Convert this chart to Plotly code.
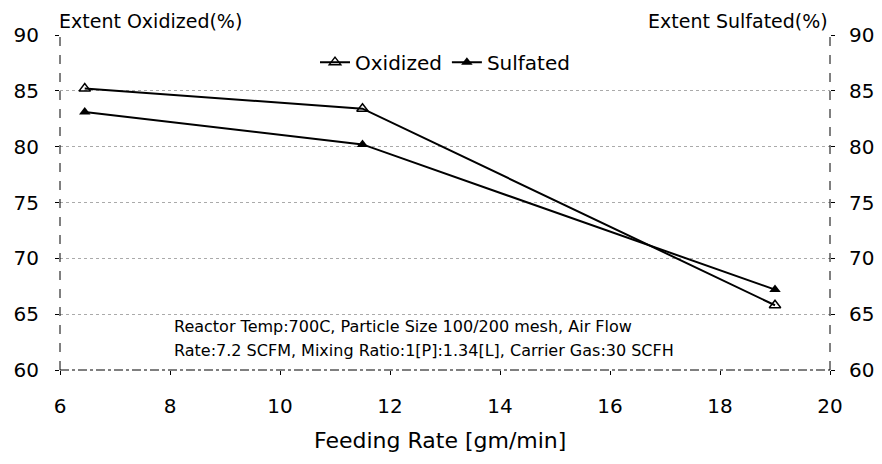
import plotly.graph_objects as go

feed_rate = [6.45, 11.5, 19.0]
oxidized = [85.2, 83.4, 65.8]
sulfated = [83.1, 80.2, 67.2]
y_ticks = [60, 65, 70, 75, 80, 85, 90]
x_ticks = [6, 8, 10, 12, 14, 16, 18, 20]
note_lines = ["Reactor Temp:700C, Particle Size 100/200 mesh, Air Flow",
              "Rate:7.2 SCFM, Mixing Ratio:1[P]:1.34[L], Carrier Gas:30 SCFH"]

FONT = "DejaVu Sans, Verdana, sans-serif"

fig = go.Figure()
fig.add_trace(go.Scatter(
    x=feed_rate, y=oxidized, name="Oxidized", mode="lines+markers",
    line=dict(color="black", width=2),
    marker=dict(symbol="triangle-up-open", size=10, color="black", line=dict(width=1.5)),
))
fig.add_trace(go.Scatter(
    x=feed_rate, y=sulfated, name="Sulfated", mode="lines+markers",
    line=dict(color="black", width=2),
    marker=dict(symbol="triangle-up", size=10, color="black"),
    yaxis="y2",
))

fig.update_layout(
    width=874, height=456,
    margin=dict(l=52, r=52, t=27, b=94),
    paper_bgcolor="white", plot_bgcolor="white",
    font=dict(family=FONT, color="black", size=20),
    showlegend=True,
    legend=dict(orientation="h", x=0.5, xanchor="center", y=0.919, yanchor="middle",
                font=dict(size=20), bgcolor="rgba(0,0,0,0)", itemwidth=30,
                tracegroupgap=0),
    xaxis=dict(range=[6, 20], tickvals=x_ticks, showgrid=False, zeroline=False,
               ticks="outside", ticklen=4, tickcolor="black", showline=False,
               automargin=False, ticklabelstandoff=14, tickfont=dict(size=20)),
    yaxis=dict(range=[60, 90], tickvals=y_ticks, showgrid=True, griddash="dot",
               gridcolor="#aaaaaa", gridwidth=1, zeroline=False, automargin=False,
               ticks="outside", ticklen=4, tickcolor="black", tickfont=dict(size=20),
               ticklabelstandoff=12, showline=False),
    yaxis2=dict(range=[60, 90], tickvals=y_ticks, overlaying="y", side="right",
                showgrid=False, zeroline=False, ticks="outside", ticklen=4,
                automargin=False, tickcolor="black", tickfont=dict(size=20),
                ticklabelstandoff=10, showline=False),
    annotations=[
        dict(text="Extent Oxidized(%)", xref="paper", yref="paper", x=-0.004, y=1.0,
             xanchor="left", yanchor="top", yshift=27, showarrow=False, font=dict(size=19)),
        dict(text="Extent Sulfated(%)", xref="paper", yref="paper", x=1.0, y=1.0,
             xanchor="right", yanchor="top", yshift=27, showarrow=False, font=dict(size=19)),
        dict(text="Feeding Rate [gm/min]", xref="paper", yref="paper", x=0.4935, y=0,
             xanchor="center", yanchor="middle", yshift=-70, showarrow=False,
             font=dict(size=22)),
        dict(text=note_lines[0], xref="paper", yref="paper", x=0.1455, y=0.131,
             xanchor="left", yanchor="middle", showarrow=False, font=dict(size=16)),
        dict(text=note_lines[1], xref="paper", yref="paper", x=0.1455, y=0.0597,
             xanchor="left", yanchor="middle", showarrow=False, font=dict(size=16)),
    ],
    shapes=[
        dict(type="line", xref="paper", yref="paper", x0=0, x1=0, y0=0, y1=1,
             line=dict(color="black", width=1, dash="dash")),
        dict(type="line", xref="paper", yref="paper", x0=1, x1=1, y0=0, y1=1,
             line=dict(color="black", width=1, dash="dash")),
        dict(type="line", xref="paper", yref="paper", x0=0, x1=1, y0=0, y1=0,
             line=dict(color="black", width=1, dash="dashdot")),
    ],
)

fig.write_html("out.html")
